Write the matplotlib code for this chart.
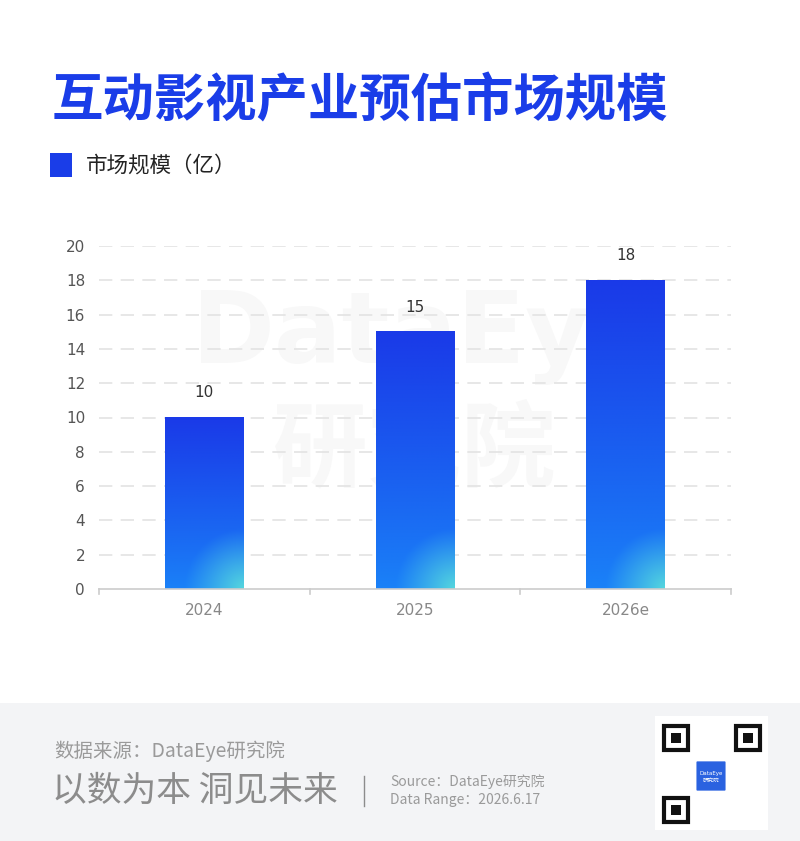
import matplotlib.pyplot as plt
import matplotlib.patches as mpatches
import numpy as np

plt.rcParams['font.family'] = ['Noto Sans CJK SC', 'DejaVu Sans']

years = ['2024', '2025', '2026e']
market_size = [10, 15, 18]
y_ticks = [0, 2, 4, 6, 8, 10, 12, 14, 16, 18, 20]

title = '互动影视产业预估市场规模'
legend_label = '市场规模（亿）'

W, H = 800, 841
fig = plt.figure(figsize=(W / 100, H / 100), dpi=100)
fig.patch.set_facecolor('white')


def fx(px):
    return px / W


def fy(py):
    return 1 - py / H


# footer band
fig.patches.append(mpatches.Rectangle((0, 0), 1, fy(703), transform=fig.transFigure,
                                      facecolor='#f3f4f6', edgecolor='none', zorder=0))

ax = fig.add_axes([fx(99), fy(589), fx(731) - fx(99), fy(246) - fy(589)])
ax.set_facecolor('none')

x = np.arange(len(years))
bar_w = 0.375

# watermark, very faint
ax.text(1.05, 14.75, 'DataEye', ha='center', va='center', fontsize=72, fontweight='bold',
        color='#f8f8f8', zorder=0, family='DejaVu Sans')
ax.text(1.0, 8.0, '研究院', ha='center', va='center', fontsize=68, fontweight='bold',
        color='#f8f8f8', zorder=0)

# dashed grid
for t in y_ticks[1:]:
    ax.axhline(t, color='#e3e3e3', lw=1.2, dashes=(8, 5), zorder=1)

# gradient bars
top_c = np.array([0x1a, 0x3a, 0xe8]) / 255
bot_c = np.array([0x1a, 0x82, 0xf8]) / 255
corner_c = np.array([0x55, 0xd6, 0xde]) / 255
bar_px_w = 79
for xi, v in zip(x, market_size):
    h_px = v / 20 * 343
    nh, nw = 200, 80
    vv = np.linspace(1, 0, nh)[:, None]
    uu = np.linspace(0, 1, nw)[None, :]
    base = bot_c + (top_c - bot_c) * vv[..., None] ** 0.9
    d = np.sqrt(((1 - uu) * bar_px_w) ** 2 + (vv * h_px) ** 2)
    wgt = np.clip(1 - d / 60, 0, 1) ** 1.1
    img = base * (1 - wgt[..., None]) + corner_c * wgt[..., None]
    ax.imshow(img, extent=[xi - bar_w / 2, xi + bar_w / 2, 0, v], aspect='auto',
              zorder=2, interpolation='bilinear')
    ax.text(xi, v + 1.0, str(v), ha='center', va='bottom', fontsize=11, color='#333333',
            family='DejaVu Sans', zorder=3)
ax.set_xlim(-0.5, len(years) - 0.5)
ax.set_ylim(0, 20)

ax.set_yticks(y_ticks)
ax.set_yticklabels([str(t) for t in y_ticks], fontsize=11, color='#555555', family='DejaVu Sans')
ax.set_xticks(x)
ax.set_xticklabels(years, fontsize=11, color='#888888', family='DejaVu Sans')
ax.tick_params(axis='y', length=0, pad=10)
ax.tick_params(axis='x', length=0, pad=10)
for s in ['top', 'right', 'left']:
    ax.spines[s].set_visible(False)
ax.spines['bottom'].set_color('#cccccc')
ax.spines['bottom'].set_linewidth(1.2)
for b in [-0.5, 0.5, 1.5, 2.5]:
    ax.plot([b, b], [0, -0.3], color='#cccccc', lw=1.2, clip_on=False, zorder=3)

# title and legend
fig.text(fx(52), fy(101), title, fontsize=37, fontweight='heavy', color='#1a3de8',
         ha='left', va='center')
fig.patches.append(mpatches.Rectangle((fx(50), fy(177)), fx(22), fy(153) - fy(177),
                                      transform=fig.transFigure, facecolor='#1a3de8',
                                      edgecolor='none'))
fig.text(fx(86), fy(166), legend_label, fontsize=15.5, color='#222222', ha='left', va='center')

# footer texts
fig.text(fx(54), fy(751), '数据来源：DataEye研究院', fontsize=14, color='#9a9a9a',
         ha='left', va='center')
fig.text(fx(52), fy(791), '以数为本 洞见未来', fontsize=25, fontweight='light', color='#8c8c8c',
         ha='left', va='center')
fig.lines.append(plt.Line2D([fx(364), fx(364)], [fy(776), fy(806)], transform=fig.transFigure,
                            color='#8c8c8c', lw=1))
fig.text(fx(390), fy(782), 'Source：DataEye研究院', fontsize=10, color='#9a9a9a',
         ha='left', va='center')
fig.text(fx(390), fy(800), 'Data Range：2026.6.17', fontsize=10, color='#9a9a9a',
         ha='left', va='center')

# QR code placeholder
fig.patches.append(mpatches.Rectangle((fx(655), fy(830)), fx(113), fy(716) - fy(830),
                                      transform=fig.transFigure, facecolor='white',
                                      edgecolor='none'))
for (qx, qy) in [(664, 726), (736, 726), (664, 798)]:
    fig.patches.append(mpatches.Rectangle((fx(qx), fy(qy + 24)), fx(24), fy(qy) - fy(qy + 24),
                                          transform=fig.transFigure, facecolor='none',
                                          edgecolor='#111111', lw=3))
    fig.patches.append(mpatches.Rectangle((fx(qx + 7), fy(qy + 17)), fx(10), fy(qy) - fy(qy + 10),
                                          transform=fig.transFigure, facecolor='#111111',
                                          edgecolor='none'))
fig.patches.append(mpatches.FancyBboxPatch((fx(697), fy(790)), fx(28), fy(762) - fy(790),
                                           boxstyle='round,pad=0.002', transform=fig.transFigure,
                                           facecolor='#2a62e0', edgecolor='white', lw=1.5))
fig.text(fx(711), fy(773), 'DataEye', fontsize=4, color='white', ha='center', va='center',
         family='DejaVu Sans')
fig.text(fx(711), fy(780), '研究院', fontsize=4, color='white', ha='center', va='center')

fig.savefig('out.png', dpi=100, facecolor='white')
